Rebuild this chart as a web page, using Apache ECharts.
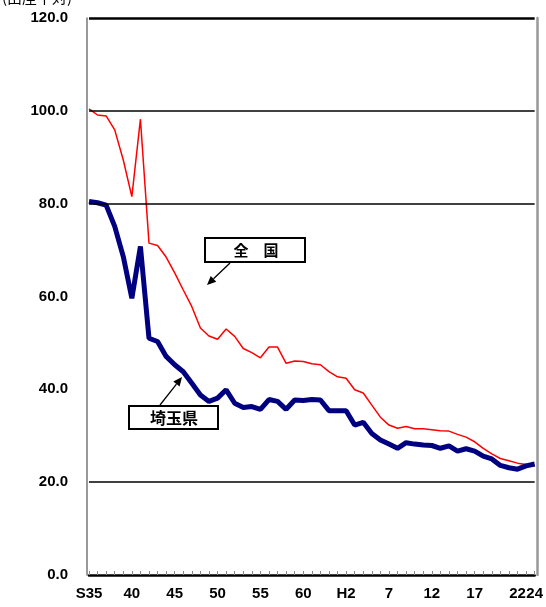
<!DOCTYPE html>
<html>
<head>
<meta charset="utf-8">
<script src="https://cdn.jsdelivr.net/npm/echarts@6/dist/echarts.min.js"></script>
<style>
html,body{margin:0;padding:0;background:#fff;}
#chart{width:546px;height:607px;}
</style>
</head>
<body>
<div id="chart"></div>
<script>
// Years: S35 (1960) ... S63, H1 ... H24 (2012)
const years = ['S35','36','37','38','39','40','41','42','43','44','45','46','47','48','49','50','51','52','53','54','55','56','57','58','59','60','61','62','63',
  'H1','H2','3','4','5','6','7','8','9','10','11','12','13','14','15','16','17','18','19','20','21','22','23','24'];
const shownLabels = ['S35','40','45','50','55','60','H2','7','12','17','22','24'];

// 全国 (national)
const national = [100.4,99.1,98.9,95.9,89.4,81.5,98.2,71.5,71.0,68.5,65.1,61.4,57.8,53.2,51.5,50.8,53.0,51.4,48.8,47.9,46.8,49.1,49.1,45.6,46.1,46.0,45.5,45.3,43.8,
  42.7,42.4,39.9,39.2,36.6,34.0,32.3,31.6,32.0,31.5,31.5,31.3,31.1,31.0,30.3,29.7,28.7,27.3,26.1,25.1,24.6,24.1,23.8,23.5];
// 埼玉県 (Saitama)
const saitama = [80.5,80.2,79.7,75.1,68.6,59.6,70.8,51.0,50.3,47.1,45.3,43.8,41.3,38.8,37.4,38.1,39.9,37.0,36.1,36.3,35.7,37.8,37.4,35.7,37.7,37.6,37.8,37.7,35.4,
  35.4,35.4,32.3,32.9,30.5,29.1,28.2,27.3,28.5,28.2,28.0,27.9,27.3,27.8,26.7,27.2,26.7,25.6,25.0,23.6,23.1,22.8,23.5,23.9];

const yTicks = [0,20,40,60,80,100,120];
const gridLines = [20,80,100,120];

const chart = echarts.init(document.getElementById('chart'), null, {renderer:'canvas'});

function arrow(x1,y1,x2,y2){
  const ang = Math.atan2(y2-y1, x2-x1);
  const L = 9, W = 4;
  const bx = x2 - L*Math.cos(ang), by = y2 - L*Math.sin(ang);
  const px = -Math.sin(ang)*W, py = Math.cos(ang)*W;
  return [
    {type:'line', shape:{x1:x1,y1:y1,x2:bx,y2:by}, style:{stroke:'#000', lineWidth:1.3}, z:100},
    {type:'polygon', shape:{points:[[x2,y2],[bx+px,by+py],[bx-px,by-py]]}, style:{fill:'#000'}, z:100}
  ];
}

const labelFont = {color:'#000', fontWeight:'bold', fontSize:15, fontFamily:'Liberation Sans, Arial, sans-serif'};

chart.setOption({
  animation:false,
  backgroundColor:'#fff',
  grid:{left:89, right:8, top:18, bottom:32, containLabel:false},
  xAxis:{
    type:'category',
    data:years,
    boundaryGap:false,
    axisLine:{show:true, lineStyle:{color:'#000', width:2.5}},
    axisTick:{show:true, inside:true, length:4, interval:0, lineStyle:{color:'#888', width:1}},
    axisLabel:Object.assign({
      interval:0, margin:11,
      formatter:function(v){ return shownLabels.indexOf(v) >= 0 ? v : ''; }
    }, labelFont),
    splitLine:{show:false}
  },
  yAxis:[{
    type:'value', min:0, max:120, interval:20, offset:2,
    axisLine:{show:true, lineStyle:{color:'#777', width:1.5}},
    axisTick:{show:false},
    axisLabel:Object.assign({margin:19, formatter:function(v){return v.toFixed(1);}}, labelFont),
    splitLine:{show:false}
  },{
    type:'value', min:0, max:120, interval:20, position:'right', offset:3,
    axisLine:{show:true, lineStyle:{color:'#999', width:2.5}},
    axisTick:{show:false}, axisLabel:{show:false}, splitLine:{show:false}
  }],
  series:[
    {
      name:'全国', type:'line', data:national, symbol:'none',
      lineStyle:{color:'#ff0000', width:1.5}, z:3,
      markLine:{
        silent:true, symbol:'none', label:{show:false},
        lineStyle:{color:'#000', type:'solid', width:1.5},
        data:gridLines.map(v => ({yAxis:v, lineStyle:{width: v===120?2.5:1.5}}))
      }
    },
    {
      name:'埼玉県', type:'line', data:saitama, symbol:'none',
      lineStyle:{color:'#000080', width:5}, z:4
    }
  ],
  graphic:[
    {type:'text', left:2, top:-10, style:{text:'(出産千対)', fontSize:15, fill:'#000', fontFamily:'Noto Sans CJK JP'}},
    {type:'rect', shape:{x:205, y:238, width:100, height:24}, style:{fill:'#fff', stroke:'#000', lineWidth:2}, z:99},
    {type:'text', x:256, y:250, style:{text:'全　国', fontSize:15, fontWeight:'bold', fill:'#000', align:'center', verticalAlign:'middle', fontFamily:'Noto Sans CJK JP'}, z:100},
    {type:'rect', shape:{x:129, y:406, width:89, height:23}, style:{fill:'#fff', stroke:'#000', lineWidth:2}, z:99},
    {type:'text', x:174, y:417.5, style:{text:'埼玉県', fontSize:16, fontWeight:'bold', fill:'#000', align:'center', verticalAlign:'middle', fontFamily:'Noto Sans CJK JP'}, z:100}
  ].concat(arrow(230,263,207,285)).concat(arrow(160,405,182,377))
});
</script>
</body>
</html>
